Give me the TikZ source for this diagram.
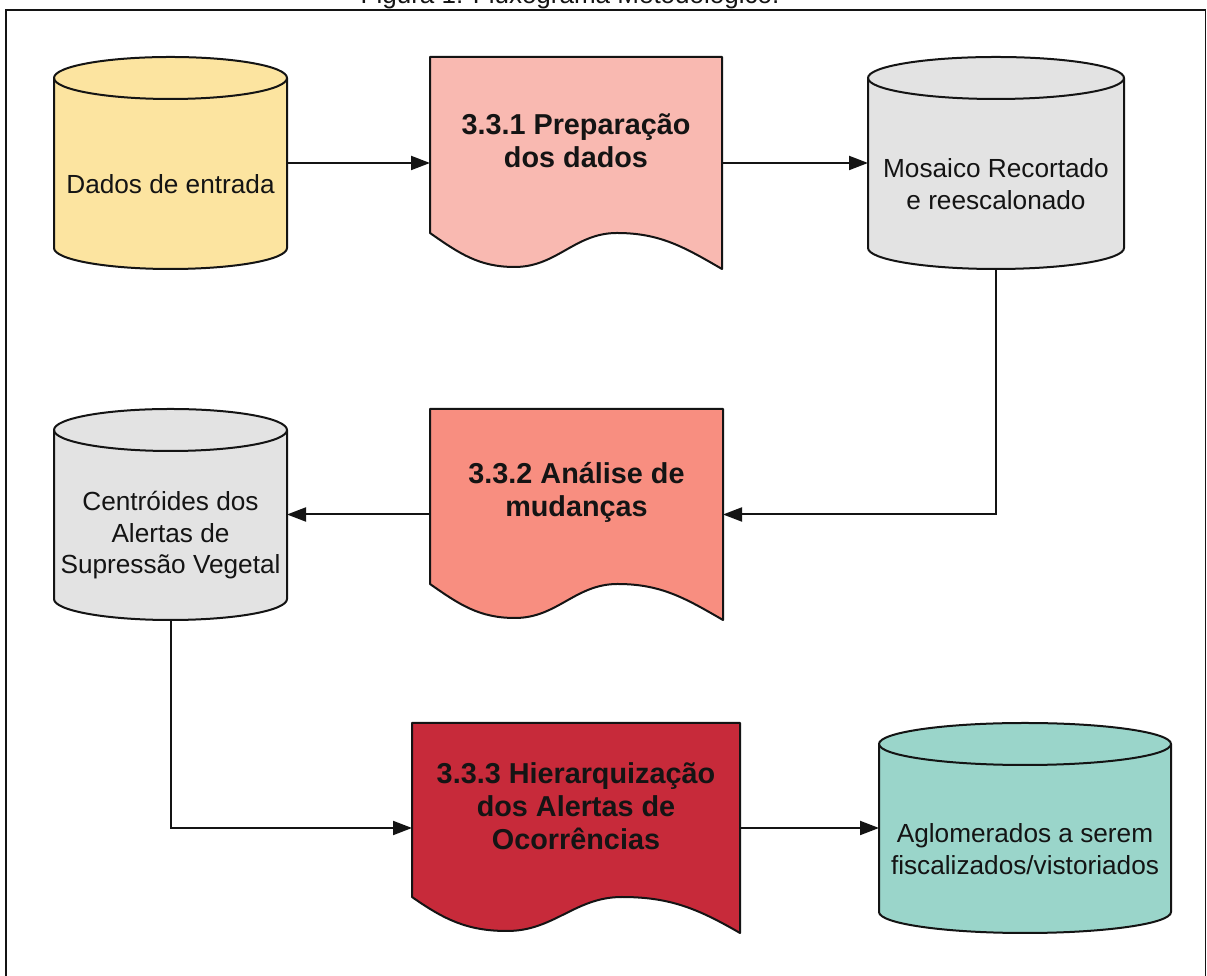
\documentclass[tikz,border=0pt]{standalone}
\usepackage{fontspec}
\setmainfont{Liberation Sans}
\usetikzlibrary{arrows.meta,calc}

\definecolor{inkc}{HTML}{141414}
\definecolor{dadosfill}{HTML}{FCE4A0}
\definecolor{prepfill}{HTML}{F9B9B1}
\definecolor{analfill}{HTML}{F88E80}
\definecolor{hierfill}{HTML}{C72A3A}
\definecolor{greyfill}{HTML}{E3E3E3}
\definecolor{tealfill}{HTML}{9AD5CA}

\tikzset{
  shapebox/.style={draw=none, inner sep=0pt, outer sep=0pt},
  shapeline/.style={draw=inkc, line width=2pt, line join=round},
  cyltext/.style={font=\fontsize{26.2}{31.5}\selectfont, text=inkc, align=center, inner sep=0pt},
  doctext/.style={font=\bfseries\fontsize{28.8}{33}\selectfont, text=inkc, align=center, inner sep=0pt},
  flowarrow/.style={draw=inkc, line width=2pt, -{Triangle[length=19pt,width=14pt]}},
}

% database cylinder drawn around a named box
\newcommand\cylshape[2]{%
  \path[shapeline, fill=#2] let \p1=(#1.north west), \p2=(#1.south east), \n1={(\x2-\x1)/2} in
    (\x1,\y1-21pt) -- (\x1,\y2+21pt)
    arc[start angle=180, end angle=360, x radius=\n1, y radius=21pt]
    -- (\x2,\y1-21pt)
    arc[start angle=0, end angle=180, x radius=\n1, y radius=21pt] -- cycle;
  \path[shapeline] let \p1=(#1.north west), \p2=(#1.south east), \n1={(\x2-\x1)/2} in
    (\x1,\y1-21pt) arc[start angle=180, end angle=360, x radius=\n1, y radius=21pt];
}

% document shape with a wavy lower edge
\newcommand\docshape[2]{%
  \path[shapeline, fill=#2] let \p1=(#1.north west), \p2=(#1.south east), \n1={\x2-\x1} in
    (\x1,\y1) -- (\x2,\y1) -- (\x2,\y2)
    to[out=150,in=0] (\x1+0.64*\n1, \y2+36pt)
    to[out=180,in=0] (\x1+0.29*\n1, \y2+2pt)
    to[out=180,in=-35] (\x1,\y2+36pt) -- cycle;
}

\begin{document}
\begin{tikzpicture}[x=1pt,y=1pt]
  \useasboundingbox (0,0) rectangle (1207,976);
  \clip (0,0) rectangle (1207,976);
  \fill[white] (0,0) rectangle (1207,976);

  % caption line above the frame
  \node[font=\fontsize{26}{30}\selectfont, text=inkc, anchor=base] (caption) at (570,972.5)
    {Figura 1: Fluxograma Metodológico.};

  % frame
  \draw[inkc, line width=1.6pt] (6,-5) -- (6,966) -- (1205.5,966) -- (1205.5,-5);

  % row 1
  \node[shapebox, minimum width=233pt, minimum height=212pt] (dados)   at (170.5,813) {};
  \node[shapebox, minimum width=292pt, minimum height=212pt] (prep)    at (576,813) {};
  \node[shapebox, minimum width=256pt, minimum height=212pt] (mosaico) at (996,813) {};
  % row 2
  \node[shapebox, minimum width=233pt, minimum height=211pt] (centr)   at (170.5,461.5) {};
  \node[shapebox, minimum width=293pt, minimum height=211pt] (analise) at (576.5,461.5) {};
  % row 3
  \node[shapebox, minimum width=328pt, minimum height=210pt] (hier)    at (576,148) {};
  \node[shapebox, minimum width=292pt, minimum height=210pt] (aglo)    at (1025,148) {};

  \cylshape{dados}{dadosfill}
  \docshape{prep}{prepfill}
  \cylshape{mosaico}{greyfill}
  \cylshape{centr}{greyfill}
  \docshape{analise}{analfill}
  \docshape{hier}{hierfill}
  \cylshape{aglo}{tealfill}

  \node[cyltext] (dadost) at ($(dados.center)+(0,-21)$) {Dados de entrada};
  \node[doctext] (prept) at ($(prep.center)+(0,22)$) {3.3.1 Preparação\\dos dados};
  \node[cyltext] (mosaicot) at ($(mosaico.center)+(0,-21)$) {Mosaico Recortado\\e reescalonado};
  \node[cyltext] (centrt) at ($(centr.center)+(0,-21)$) {Centróides dos\\Alertas de\\Supressão Vegetal};
  \node[doctext] (analiset) at ($(analise.center)+(0,22)$) {3.3.2 Análise de\\mudanças};
  \node[doctext] (hiert) at ($(hier.center)+(0,22)$) {3.3.3 Hierarquização\\dos Alertas de\\Ocorrências};
  \node[cyltext] (aglot) at ($(aglo.center)+(0,-21)$) {Aglomerados a serem\\fiscalizados/vistoriados};

  % connectors
  \draw[flowarrow] (dados.east) -- (prep.west);
  \draw[flowarrow] (prep.east) -- (mosaico.west);
  \draw[flowarrow] (mosaico.south) |- (analise.east);
  \draw[flowarrow] (analise.west) -- (centr.east);
  \draw[flowarrow] (centr.south) |- (hier.west);
  \draw[flowarrow] (hier.east) -- (aglo.west);
\end{tikzpicture}
\end{document}
